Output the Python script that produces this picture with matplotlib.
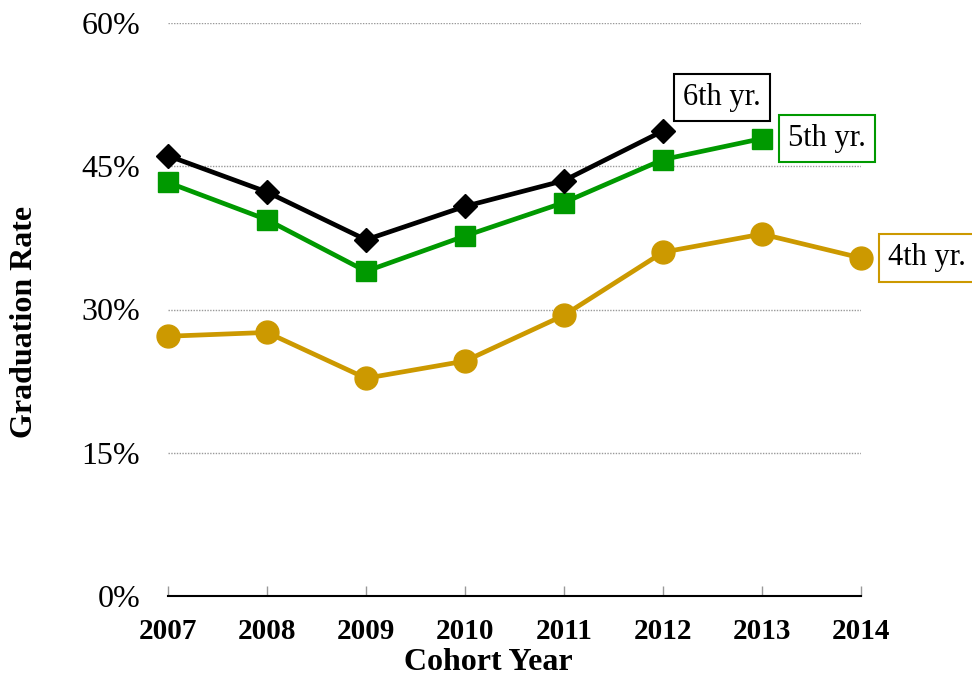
import matplotlib.pyplot as plt

plt.rcParams['font.family'] = ['Liberation Serif', 'DejaVu Serif']

years = [2007, 2008, 2009, 2010, 2011, 2012, 2013, 2014]
sixth_yr = [46.1, 42.3, 37.3, 40.8, 43.5, 48.7]
fifth_yr = [43.3, 39.4, 34.0, 37.7, 41.2, 45.7, 47.9]
fourth_yr = [27.2, 27.6, 22.8, 24.6, 29.4, 36.0, 37.9, 35.4]
y_ticks = [0, 15, 30, 45, 60]

black = '#000000'
green = '#009900'
gold = '#cc9900'

fig = plt.figure(figsize=(9.72, 6.77), dpi=100)
ax = fig.add_axes([168/972, 81/677, 693/972, 573/677])

ax.plot(years, fourth_yr, color=gold, lw=3.4, marker='o', ms=16.5, clip_on=False, zorder=3)
ax.plot(years[:7], fifth_yr, color=green, lw=3.4, marker='s', ms=14, clip_on=False, zorder=4)
ax.plot(years[:6], sixth_yr, color=black, lw=3.4, marker='D', ms=12.5, clip_on=False, zorder=5)

ax.set_xlim(2007, 2014)
ax.set_ylim(0, 60)
ax.set_yticks(y_ticks)
ax.set_yticklabels([f'{t}%' for t in y_ticks], fontsize=23)
ax.set_xticks(years)
ax.set_xticklabels([str(y) for y in years], fontsize=21, fontweight='bold')

for t in y_ticks[1:]:
    ax.axhline(t, color='#999999', lw=1, ls=(0, (1, 1)), zorder=1)

for s in ['top', 'right', 'left']:
    ax.spines[s].set_visible(False)
ax.spines['bottom'].set_linewidth(1.5)
ax.tick_params(axis='y', length=0, pad=20)
ax.tick_params(axis='x', direction='in', length=7, color='#999999', width=1, pad=16)

box = dict(boxstyle='square,pad=0.3', fc='white', lw=1.5)
ax.annotate('6th yr.', (years[5], sixth_yr[-1]), xytext=(20, 19), textcoords='offset pixels',
            ha='left', va='bottom', fontsize=22, bbox=dict(box, ec=black), annotation_clip=False)
ax.annotate('5th yr.', (years[6], fifth_yr[-1]), xytext=(26, 0), textcoords='offset pixels',
            ha='left', va='center', fontsize=22, bbox=dict(box, ec=green), annotation_clip=False)
ax.annotate('4th yr.', (years[7], fourth_yr[-1]), xytext=(27, 0), textcoords='offset pixels',
            ha='left', va='center', fontsize=22, bbox=dict(box, ec=gold), annotation_clip=False)

fig.text(488/972, 1 - 662/677, 'Cohort Year', ha='center', va='center', fontsize=23, fontweight='bold')
fig.text(25/972, 1 - 322/677, 'Graduation Rate', ha='center', va='center', rotation=90,
         fontsize=23, fontweight='bold')

fig.savefig('out.png', dpi=100)
